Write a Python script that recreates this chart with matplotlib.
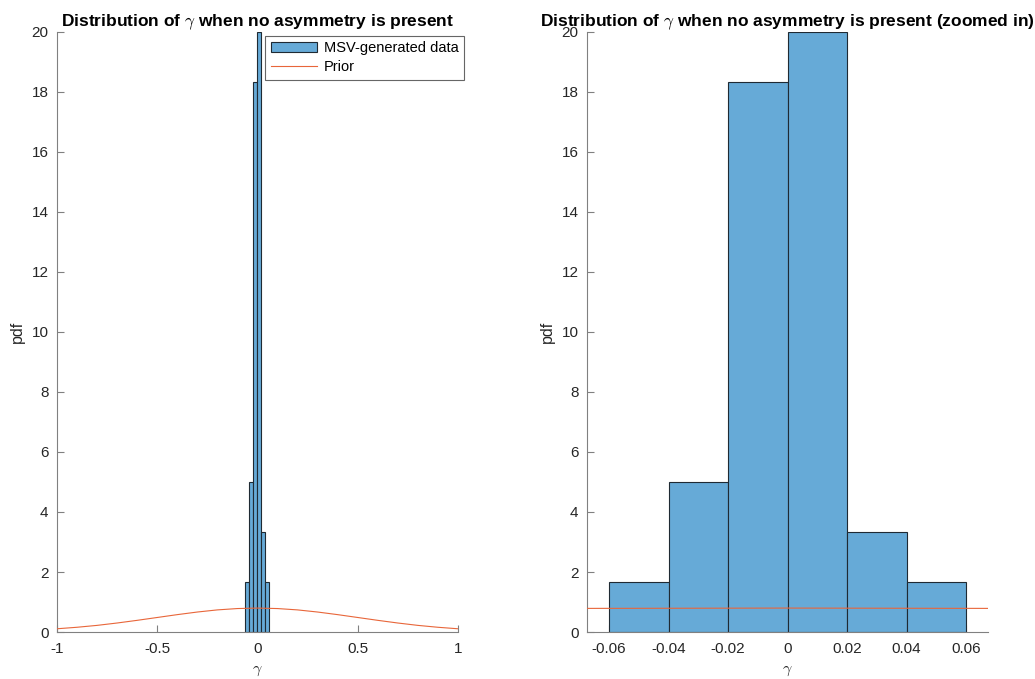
import matplotlib
matplotlib.use("Agg")
import matplotlib.pyplot as plt
import numpy as np

# ---- data ----
bin_edges = [-0.06, -0.04, -0.02, 0.0, 0.02, 0.04, 0.06]
bin_heights = [1.667, 5.0, 18.333, 20.0, 3.333, 1.667]
prior_x = [-1.0, -0.9, -0.8, -0.7, -0.6, -0.5, -0.4, -0.3, -0.2, -0.1, 0.0,
           0.1, 0.2, 0.3, 0.4, 0.5, 0.6, 0.7, 0.8, 0.9, 1.0]
prior_y = [0.108, 0.158, 0.221, 0.300, 0.389, 0.484, 0.579, 0.666, 0.737, 0.782, 0.798,
           0.782, 0.737, 0.666, 0.579, 0.484, 0.389, 0.300, 0.221, 0.158, 0.108]
left_xticks = [-1, -0.5, 0, 0.5, 1]
left_xticklabels = ["-1", "-0.5", "0", "0.5", "1"]
right_xticks = [-0.06, -0.04, -0.02, 0, 0.02, 0.04, 0.06]
right_xticklabels = ["-0.06", "-0.04", "-0.02", "0", "0.02", "0.04", "0.06"]
yticks = [0, 2, 4, 6, 8, 10, 12, 14, 16, 18, 20]

plt.rcParams['font.family'] = ['Liberation Sans', 'DejaVu Sans']
plt.rcParams['mathtext.fontset'] = 'cm'

bar_color = '#66AAD7'
edge_color = '#1f2a33'
prior_color = '#E8663A'
axis_color = '#262626'

fig = plt.figure(figsize=(10.35, 6.79), dpi=100)
ax1 = fig.add_axes([0.055, 0.0692, 0.3875, 0.8838])
ax2 = fig.add_axes([0.567, 0.0692, 0.3879, 0.8838])

widths = np.diff(bin_edges)

def style(ax):
    for s in ['top', 'right']:
        ax.spines[s].set_visible(False)
    for s in ['left', 'bottom']:
        ax.spines[s].set_color('#808080')
        ax.spines[s].set_linewidth(0.8)
    ax.tick_params(direction='in', length=5, width=0.8, colors='#808080',
                   labelcolor=axis_color, labelsize=11)
    ax.tick_params(axis='x', pad=7)
    ax.tick_params(axis='y', pad=6)
    ax.set_ylim(0, 20)
    ax.set_yticks(yticks)
    ax.set_ylabel('pdf', fontsize=11.5, color=axis_color, labelpad=5)
    ax.set_xlabel(r'$\gamma$', fontsize=11.5, color=axis_color, labelpad=5)

handles = []
for ax in (ax1, ax2):
    b = ax.bar(bin_edges[:-1], bin_heights, width=widths, align='edge',
               color=bar_color, edgecolor=edge_color, linewidth=0.8,
               label='MSV-generated data', zorder=2)
    l, = ax.plot(prior_x, prior_y, color=prior_color, linewidth=0.8, label='Prior', zorder=3)
    style(ax)
    if not handles:
        handles = [b, l]

ax1.set_xlim(-1, 1)
ax1.set_xticks(left_xticks)
ax1.set_xticklabels(left_xticklabels)
ax1.set_title(r'Distribution of $\gamma$ when no asymmetry is present',
              fontsize=12.5, fontweight='bold', pad=3)
leg = ax1.legend(handles=handles, labels=['MSV-generated data', 'Prior'],
                 loc='upper right', bbox_to_anchor=(1.016, 0.994), fontsize=10.5,
                 frameon=True, fancybox=False, borderpad=0.4, handlelength=3.1,
                 handletextpad=0.5, labelspacing=0.3, borderaxespad=0)
leg.get_frame().set_edgecolor('#404040')
leg.get_frame().set_linewidth(0.8)

ax2.set_xlim(-0.0675, 0.0675)
ax2.set_xticks(right_xticks)
ax2.set_xticklabels(right_xticklabels)
ax2.set_title(r'Distribution of $\gamma$ when no asymmetry is present (zoomed in)',
              fontsize=12.5, fontweight='bold', pad=3)

fig.savefig('out.png', dpi=100)
